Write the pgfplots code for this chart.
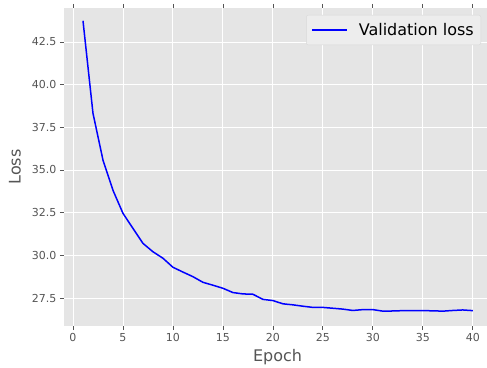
\documentclass[border=0pt]{standalone}
\usepackage{fontspec}
\setmainfont{DejaVu Sans}
\usepackage{pgfplots}
\pgfplotsset{compat=1.18}
\definecolor{bggray}{HTML}{E5E5E5}
\definecolor{tickgray}{HTML}{555555}
\definecolor{labgray}{HTML}{555555}
\begin{document}
\begin{tikzpicture}
\begin{axis}[
  scale only axis,
  width=423pt, height=318pt,
  xmin=-0.9, xmax=41.42,
  ymin=25.86, ymax=44.49,
  axis background/.style={fill=bggray},
  axis line style={draw=none},
  xtick={0,5,...,40},
  ytick={27.5,30,32.5,35,37.5,40,42.5},
  yticklabel style={/pgf/number format/.cd, fixed, fixed zerofill, precision=1},
  /pgf/number format/assume math mode=true,
  tick align=outside,
  major tick length=4pt,
  tick style={tickgray, line width=0.8pt},
  ticklabel style={font=\fontsize{11}{13}\selectfont, text=tickgray},
  grid=major,
  grid style={white, line width=0.9pt},
  xlabel={Epoch}, ylabel={Loss},
  label style={font=\fontsize{16}{19}\selectfont, text=labgray},
  xlabel style={at={(axis description cs:0.505,-0.0975)}, anchor=center},
  ylabel style={at={(axis description cs:-0.1158,0.5)}, anchor=center},
  legend style={at={(1,1)}, anchor=north east, xshift=-6pt, yshift=-7pt,
    draw=black!15, fill=bggray!70!white, rounded corners=2pt,
    font=\fontsize{16}{19}\selectfont, inner xsep=5pt, inner ysep=6pt,
    /tikz/every odd column/.append style={column sep=9pt}},
  legend cell align=left,
  legend image code/.code={\draw[#1] (0pt,0pt) -- (35pt,0pt);},
]
\addplot[blue, line width=1.5pt] coordinates {
(1,43.74) (2,38.32) (3,35.58) (4,33.81) (5,32.46) (6,31.58) (7,30.70) (8,30.21)
(9,29.83) (10,29.30) (11,29.02) (12,28.75) (13,28.42) (14,28.25) (15,28.07)
(16,27.82) (17,27.74) (18,27.72) (19,27.42) (20,27.35) (21,27.16) (22,27.10)
(23,27.02) (24,26.95) (25,26.95) (26,26.90) (27,26.85) (28,26.77) (29,26.82)
(30,26.82) (31,26.73) (32,26.74) (33,26.76) (34,26.76) (35,26.76) (36,26.75)
(37,26.73) (38,26.77) (39,26.80) (40,26.76)
};
\addlegendentry{Validation loss}
\end{axis}
\pgfresetboundingbox
\useasboundingbox (current axis.south west) ++(-64pt,-41pt) rectangle ++(487pt,367pt);
\end{tikzpicture}
\end{document}
